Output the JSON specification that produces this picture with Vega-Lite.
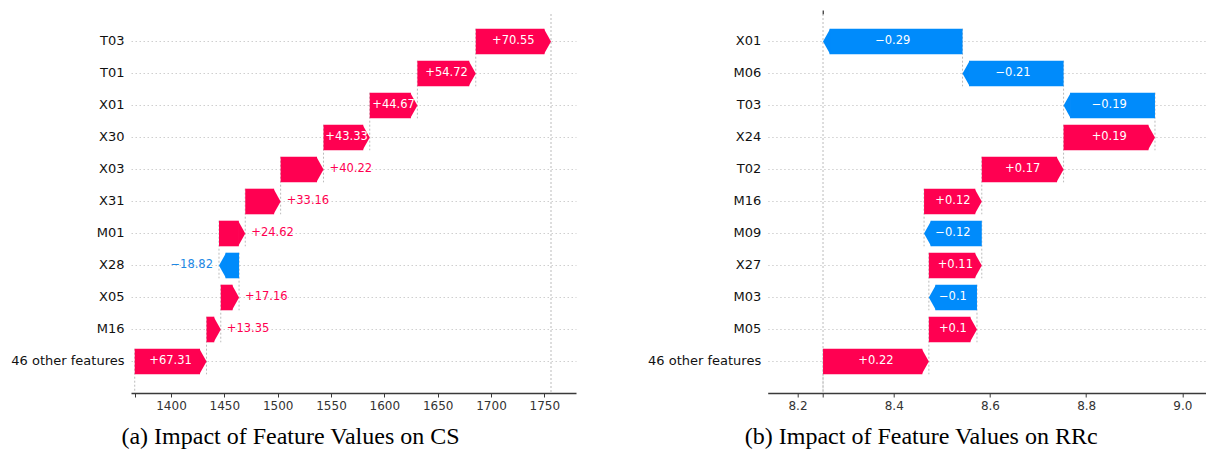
{
  "$schema": "https://vega.github.io/schema/vega-lite/v6.json",
  "background": "white",
  "padding": {"left": 10, "top": 9, "right": 0, "bottom": 0},
  "bounds": "flush",
  "spacing": 191.7,
  "config": {
    "view": {"stroke": null},
    "font": "DejaVu Sans",
    "axisX": {
      "domainColor": "#3a3a3a",
      "domainWidth": 1.5,
      "tickColor": "#3a3a3a",
      "tickSize": 4,
      "tickWidth": 1,
      "labelFontSize": 12,
      "labelColor": "#333333",
      "labelPadding": 3,
      "labelFlush": false,
      "grid": false
    },
    "axisY": {
      "domain": false,
      "ticks": false,
      "labelFontSize": 13,
      "labelColor": "#111111",
      "labelPadding": 7,
      "grid": true,
      "gridColor": "#cfcfcf",
      "gridDash": [1.5, 2.5],
      "gridWidth": 1
    }
  },
  "datasets": {
    "cs": [
      {"feature": "T03", "start": 1685.72, "end": 1756.27, "shap": 70.55},
      {"feature": "T01", "start": 1631.0, "end": 1685.72, "shap": 54.72},
      {"feature": "X01", "start": 1586.33, "end": 1631.0, "shap": 44.67},
      {"feature": "X30", "start": 1543.0, "end": 1586.33, "shap": 43.33},
      {"feature": "X03", "start": 1502.78, "end": 1543.0, "shap": 40.22},
      {"feature": "X31", "start": 1469.62, "end": 1502.78, "shap": 33.16},
      {"feature": "M01", "start": 1445.0, "end": 1469.62, "shap": 24.62},
      {"feature": "X28", "start": 1463.82, "end": 1445.0, "shap": -18.82},
      {"feature": "X05", "start": 1446.66, "end": 1463.82, "shap": 17.16},
      {"feature": "M16", "start": 1433.31, "end": 1446.66, "shap": 13.35},
      {"feature": "46 other features", "start": 1366.0, "end": 1433.31, "shap": 67.31}
    ],
    "csOutput": [{"fx": 1756.27}],
    "rrc": [
      {"feature": "X01", "start": 8.543, "end": 8.253, "shap": -0.29},
      {"feature": "M06", "start": 8.753, "end": 8.543, "shap": -0.21},
      {"feature": "T03", "start": 8.943, "end": 8.753, "shap": -0.19},
      {"feature": "X24", "start": 8.753, "end": 8.943, "shap": 0.19},
      {"feature": "T02", "start": 8.583, "end": 8.753, "shap": 0.17},
      {"feature": "M16", "start": 8.463, "end": 8.583, "shap": 0.12},
      {"feature": "M09", "start": 8.583, "end": 8.463, "shap": -0.12},
      {"feature": "X27", "start": 8.473, "end": 8.583, "shap": 0.11},
      {"feature": "M03", "start": 8.573, "end": 8.473, "shap": -0.1},
      {"feature": "M05", "start": 8.473, "end": 8.573, "shap": 0.1},
      {"feature": "46 other features", "start": 8.253, "end": 8.473, "shap": 0.22}
    ],
    "rrcOutput": [{"fx": 8.253}]
  },
  "hconcat": [
    {
      "width": 445,
      "height": 379,
      "title": {
        "text": "(a) Impact of Feature Values on CS",
        "orient": "bottom",
        "anchor": "middle",
        "font": "Liberation Serif",
        "fontSize": 24,
        "fontWeight": "normal",
        "color": "#000000",
        "offset": 14,
        "dx": -63
      },
      "resolve": {"axis": {"x": "independent"}},
      "layer": [
        {
          "data": {"name": "cs"},
          "mark": {"type": "rule", "color": "#bbbbbb", "strokeWidth": 1, "strokeDash": [2, 2], "yOffset": -12.8, "y2Offset": 44.8, "clip": true},
          "encoding": {
            "y": {"field": "feature", "type": "nominal", "sort": null, "title": null},
            "y2": {"field": "feature"},
            "x": {"field": "start", "type": "quantitative", "axis": null}
          }
        },
        {
          "data": {"name": "csOutput"},
          "mark": {"type": "rule", "color": "#bbbbbb", "strokeWidth": 1, "strokeDash": [2, 2]},
          "encoding": {
            "x": {"field": "fx", "type": "quantitative", "axis": null}
          }
        },
        {
          "data": {"name": "cs"},
          "mark": {"type": "bar", "x2Offset": {"expr": "datum.end > datum.start ? -6.5 : 6.5"}},
          "encoding": {
            "y": {
              "field": "feature", "type": "nominal", "sort": null, "title": null,
              "scale": {"paddingInner": 0.2, "paddingOuter": 0.522, "align": 0.44},
              "axis": {"bandPosition": 0.5}
            },
            "x": {
              "field": "start", "type": "quantitative", "title": null,
              "scale": {"domain": [1362.5, 1779.7], "nice": false, "zero": false},
              "axis": {
                "orient": "bottom",
                "values": [1366, 1400, 1450, 1500, 1550, 1600, 1650, 1700, 1750],
                "format": "d",
                "labelExpr": "datum.value < 1390 ? '' : datum.label"
              }
            },
            "x2": {"field": "end"},
            "color": {"condition": {"test": "datum.end > datum.start", "value": "#ff0051"}, "value": "#008bfb"}
          }
        },
        {
          "data": {"name": "cs"},
          "mark": {"type": "point", "filled": true, "opacity": 1, "size": 655, "strokeWidth": 0},
          "encoding": {
            "y": {"field": "feature", "type": "nominal", "sort": null, "title": null},
            "x": {"field": "end", "type": "quantitative", "axis": null},
            "shape": {"condition": {"test": "datum.end > datum.start", "value": "M-0.56,-1L0,0L-0.56,1Z"}, "value": "M0.56,-1L0,0L0.56,1Z"},
            "color": {"condition": {"test": "datum.end > datum.start", "value": "#ff0051"}, "value": "#008bfb"}
          }
        },
        {
          "data": {"name": "cs"},
          "transform": [
            {"filter": "abs(datum.shap) > 42"},
            {"fold": ["start", "end"], "as": ["edge", "pos"]}
          ],
          "mark": {"type": "text", "color": "white", "fontSize": 11.5, "baseline": "middle", "align": "center"},
          "encoding": {
            "y": {"field": "feature", "type": "nominal", "sort": null, "title": null},
            "x": {"aggregate": "mean", "field": "pos", "type": "quantitative", "axis": null},
            "text": {"field": "shap", "type": "quantitative", "format": "+.2~f"}
          }
        },
        {
          "data": {"name": "cs"},
          "transform": [{"filter": "abs(datum.shap) <= 42"}],
          "mark": {
            "type": "text", "fontSize": 11.5, "baseline": "middle",
            "align": {"expr": "datum.shap > 0 ? 'left' : 'right'"},
            "dx": {"expr": "datum.shap > 0 ? 6 : -6"}
          },
          "encoding": {
            "y": {"field": "feature", "type": "nominal", "sort": null, "title": null},
            "x": {"field": "end", "type": "quantitative", "axis": null},
            "text": {"field": "shap", "type": "quantitative", "format": "+.2~f"},
            "color": {"condition": {"test": "datum.shap > 0", "value": "#ff0051"}, "value": "#1e88e5"}
          }
        }
      ]
    },
    {
      "width": 439,
      "height": 379,
      "title": {
        "text": "(b) Impact of Feature Values on RRc",
        "orient": "bottom",
        "anchor": "middle",
        "font": "Liberation Serif",
        "fontSize": 24,
        "fontWeight": "normal",
        "color": "#000000",
        "offset": 14,
        "dx": -66
      },
      "resolve": {"axis": {"x": "independent"}},
      "layer": [
        {
          "data": {"name": "rrc"},
          "mark": {"type": "rule", "color": "#bbbbbb", "strokeWidth": 1, "strokeDash": [2, 2], "yOffset": -12.8, "y2Offset": 44.8, "clip": true},
          "encoding": {
            "y": {"field": "feature", "type": "nominal", "sort": null, "title": null},
            "y2": {"field": "feature"},
            "x": {"field": "start", "type": "quantitative", "axis": null}
          }
        },
        {
          "data": {"name": "rrcOutput"},
          "mark": {"type": "rule", "color": "#bbbbbb", "strokeWidth": 1, "strokeDash": [2, 2]},
          "encoding": {
            "x": {
              "field": "fx", "type": "quantitative", "title": null,
              "axis": {"orient": "top", "values": [8.253], "labels": false, "domain": false, "ticks": true, "tickColor": "#000000", "tickSize": 4}
            }
          }
        },
        {
          "data": {"name": "rrc"},
          "mark": {"type": "bar", "x2Offset": {"expr": "datum.end > datum.start ? -6.5 : 6.5"}},
          "encoding": {
            "y": {
              "field": "feature", "type": "nominal", "sort": null, "title": null,
              "scale": {"paddingInner": 0.2, "paddingOuter": 0.522, "align": 0.44},
              "axis": {"bandPosition": 0.5}
            },
            "x": {
              "field": "start", "type": "quantitative", "title": null,
              "scale": {"domain": [8.138, 9.0505], "nice": false, "zero": false},
              "axis": {
                "orient": "bottom",
                "values": [8.2, 8.253, 8.4, 8.6, 8.8, 9.0],
                "format": ".1f",
                "labelExpr": "abs(datum.value - 8.253) < 0.0005 ? '' : datum.label"
              }
            },
            "x2": {"field": "end"},
            "color": {"condition": {"test": "datum.end > datum.start", "value": "#ff0051"}, "value": "#008bfb"}
          }
        },
        {
          "data": {"name": "rrc"},
          "mark": {"type": "point", "filled": true, "opacity": 1, "size": 655, "strokeWidth": 0},
          "encoding": {
            "y": {"field": "feature", "type": "nominal", "sort": null, "title": null},
            "x": {"field": "end", "type": "quantitative", "axis": null},
            "shape": {"condition": {"test": "datum.end > datum.start", "value": "M-0.56,-1L0,0L-0.56,1Z"}, "value": "M0.56,-1L0,0L0.56,1Z"},
            "color": {"condition": {"test": "datum.end > datum.start", "value": "#ff0051"}, "value": "#008bfb"}
          }
        },
        {
          "data": {"name": "rrc"},
          "transform": [{"fold": ["start", "end"], "as": ["edge", "pos"]}],
          "mark": {"type": "text", "color": "white", "fontSize": 11.5, "baseline": "middle", "align": "center"},
          "encoding": {
            "y": {"field": "feature", "type": "nominal", "sort": null, "title": null},
            "x": {"aggregate": "mean", "field": "pos", "type": "quantitative", "axis": null},
            "text": {"field": "shap", "type": "quantitative", "format": "+.2~f"}
          }
        }
      ]
    }
  ]
}
